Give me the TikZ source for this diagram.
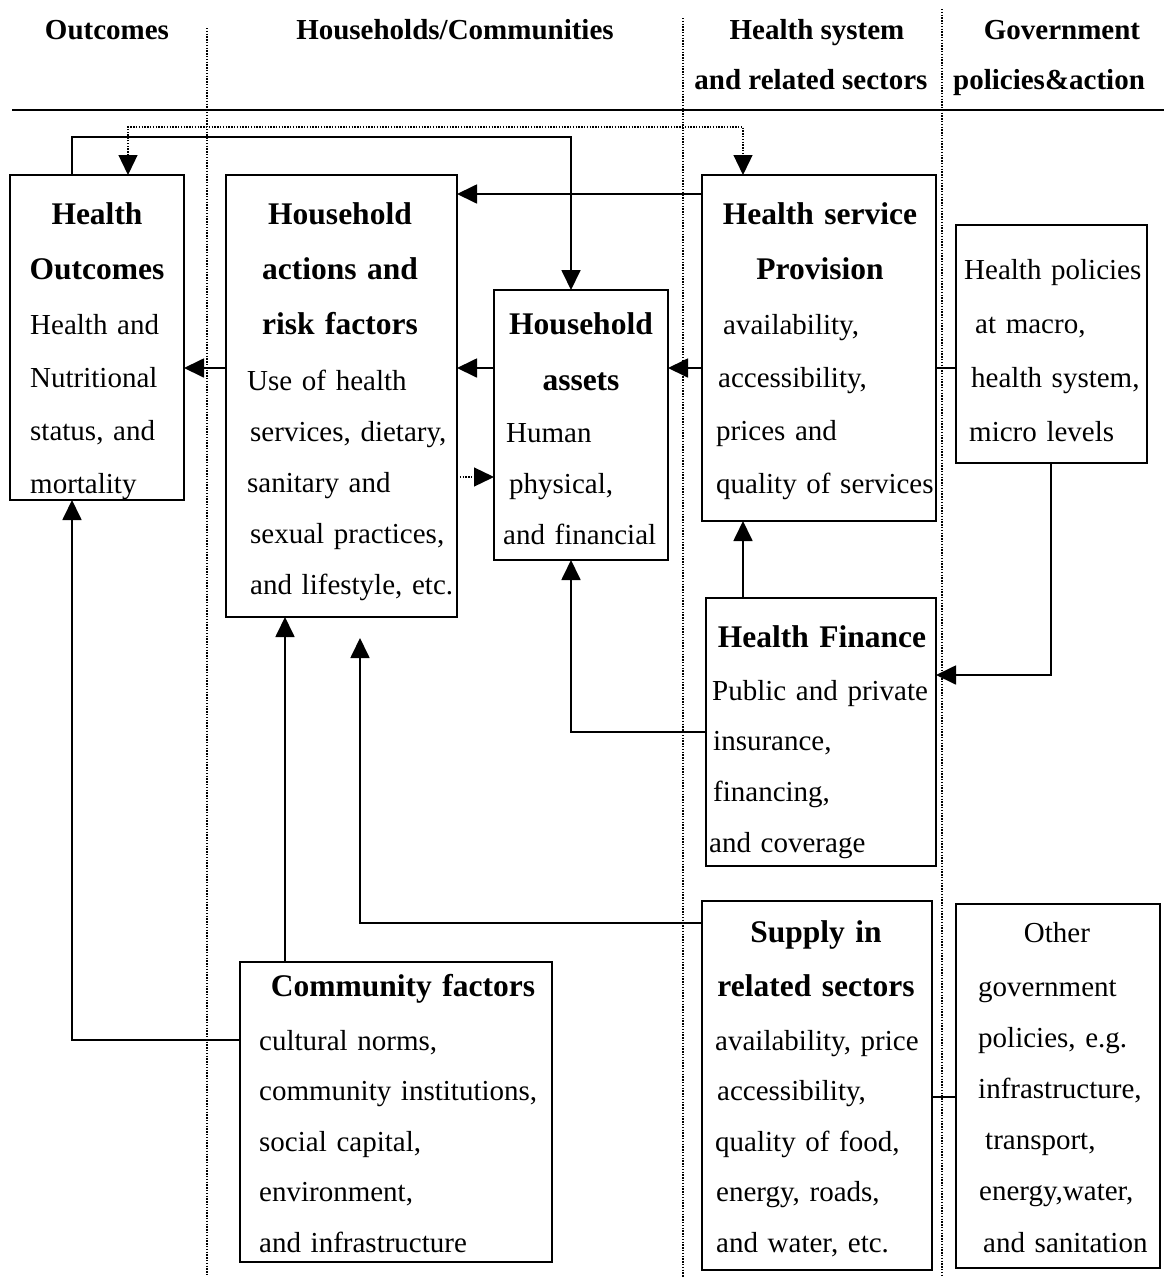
\documentclass[tikz,border=0pt]{standalone}
\usepackage{fontspec}
\setmainfont{Liberation Serif}
\usetikzlibrary{arrows.meta}

\tikzset{
  box/.style={draw, line width=1.8pt, inner sep=0pt, outer sep=0pt},
  hd/.style={font=\fontsize{31.5}{#1}\selectfont\bfseries, inner sep=0pt,
             anchor=base, align=center, text width=300pt},
  hd/.default=55,
  bd/.style={font=\fontsize{29}{#1}\selectfont, inner sep=0pt,
             anchor=base west, align=left, text width=300pt},
  bd/.default=51,
  colhead/.style={font=\fontsize{29}{51}\selectfont\bfseries,
                  inner sep=0pt, anchor=base},
  tip/.tip={Triangle[width=19pt,length=20pt]},
  ln/.style={line width=1.8pt},
  dt/.style={line width=1.3pt, dash pattern=on 1.3pt off 1.5pt},
}

\begin{document}
\begin{tikzpicture}[x=1pt,y=-1pt]
\useasboundingbox (0,0) rectangle (1164,1277);

% column headings
\node[colhead] (t1) at (107,39) {Outcomes};
\node[colhead] (t2) at (455,39) {Households/Communities};
\node[colhead] (t3a) at (817,39) {Health system};
\node[colhead] (t3b) at (811,89) {and related sectors};
\node[colhead] (t4a) at (1062,39) {Government};
\node[colhead] (t4b) at (1049,89) {policies\&action};

% heading rule and column dividers
\draw[line width=1.8pt] (12,110) -- (1164,110);
\draw[dt] (207,28) -- (207,1277);
\draw[dt] (683,18) -- (683,1277);
\draw[dt] (942,9) -- (942,1277);

% boxes
\node[box, minimum width=174pt, minimum height=325pt] (ho)   at (97,337.5)  {};
\node[box, minimum width=231pt, minimum height=442pt] (hact) at (341.5,396) {};
\node[box, minimum width=174pt, minimum height=270pt] (hass) at (581,425)   {};
\node[box, minimum width=234pt, minimum height=346pt] (hsp)  at (819,348)   {};
\node[box, minimum width=191pt, minimum height=238pt] (hpol) at (1051.5,344){};
\node[box, minimum width=230pt, minimum height=268pt] (hfin) at (821,732)   {};
\node[box, minimum width=230pt, minimum height=369pt] (sup)  at (817,1085.5){};
\node[box, minimum width=204pt, minimum height=364pt] (ogov) at (1058,1086) {};
\node[box, minimum width=312pt, minimum height=300pt] (comm) at (396,1112)  {};

% box texts
\node[hd] (hoT) at (97,224) {Health\\Outcomes};
\node[bd=53] (hoB) at (30,334) {Health and\\Nutritional\\status, and\\mortality};

\node[hd] (hactT) at (340,224) {Household\\actions and\\risk factors};
\node[bd=51] (hactB) at (247,390) {Use of health\\\hspace*{3pt}services, dietary,\\sanitary and\\\hspace*{3pt}sexual practices,\\\hspace*{3pt}and lifestyle, etc.};

\node[hd=56] (hassT) at (581,334) {Household\\assets};
\node[bd=51] (hassB) at (503,442) {\hspace*{3pt}Human\\\hspace*{6pt}physical,\\and financial};

\node[hd] (hspT) at (820,224) {Health service\\Provision};
\node[bd=53] (hspB) at (716,334) {\hspace*{7pt}availability,\\\hspace*{2pt}accessibility,\\prices and\\quality of services};

\node[bd=54] (hpolB) at (964,279) {Health policies\\\hspace*{11pt}at macro,\\\hspace*{7pt}health system,\\\hspace*{5pt}micro levels};

\node[hd] (hfinT) at (822,647) {Health Finance};
\node[bd=50.7] (hfinB) at (709,700) {\hspace*{3pt}Public and private\\\hspace*{4pt}insurance,\\\hspace*{4pt}financing,\\and coverage};

\node[hd=54] (supT) at (816,942) {Supply in\\related sectors};
\node[bd=50.5] (supB) at (715,1050) {availability, price\\\hspace*{2pt}accessibility,\\quality of food,\\\hspace*{1pt}energy, roads,\\\hspace*{1pt}and water, etc.};

\node[font=\fontsize{29}{51}\selectfont, inner sep=0pt, anchor=base] (ogovT) at (1057,942) {Other};
\node[bd=51.2] (ogovB) at (978,996) {government\\policies, e.g.\\infrastructure,\\\hspace*{7pt}transport,\\\hspace*{1pt}energy,water,\\\hspace*{5pt}and sanitation};

\node[hd] (commT) at (403,996) {Community factors};
\node[bd=50.5] (commB) at (259,1050) {cultural norms,\\community institutions,\\social capital,\\environment,\\and infrastructure};

% bend points of the connectors
\coordinate (a1) at (72,137);   \coordinate (a2) at (571,137);
\coordinate (b1) at (128,127);  \coordinate (b2) at (743,127);
\coordinate (c)  at (0,194);
\coordinate (r)  at (0,368);
\coordinate (d)  at (0,477);
\coordinate (e)  at (743,0);
\coordinate (f)  at (1051,675);
\coordinate (g)  at (571,732);
\coordinate (h)  at (360,923);  \coordinate (hend) at (360,638);
\coordinate (i)  at (285,0);
\coordinate (j)  at (72,1040);
\coordinate (k)  at (0,1097);

% connectors
\draw[ln,-tip] (a1 |- ho.north) -- (a1) -- (a2) -- (a2 |- hass.north);
\draw[dt,tip-tip] (b1 |- ho.north) -- (b1) -- (b2) -- (b2 |- hsp.north);
\draw[ln,-tip] (c -| hsp.west) -- (c -| hact.east);
\draw[ln,-tip] (r -| hact.west) -- (r -| ho.east);
\draw[ln,-tip] (r -| hass.west) -- (r -| hact.east);
\draw[ln,-tip] (r -| hsp.west) -- (r -| hass.east);
\draw[ln] (r -| hpol.west) -- (r -| hsp.east);
\draw[dt,-tip] (d -| hact.east) -- (d -| hass.west);
\draw[ln,-tip] (e |- hfin.north) -- (e |- hsp.south);
\draw[ln,-tip] (f |- hpol.south) -- (f) -- (f -| hfin.east);
\draw[ln,-tip] (g -| hfin.west) -- (g) -- (g |- hass.south);
\draw[ln,-tip] (h -| sup.west) -- (h) -- (hend);
\draw[ln,-tip] (i |- comm.north) -- (i |- hact.south);
\draw[ln,-tip] (j -| comm.west) -- (j) -- (j |- ho.south);
\draw[ln] (k -| ogov.west) -- (k -| sup.east);
\end{tikzpicture}
\end{document}
